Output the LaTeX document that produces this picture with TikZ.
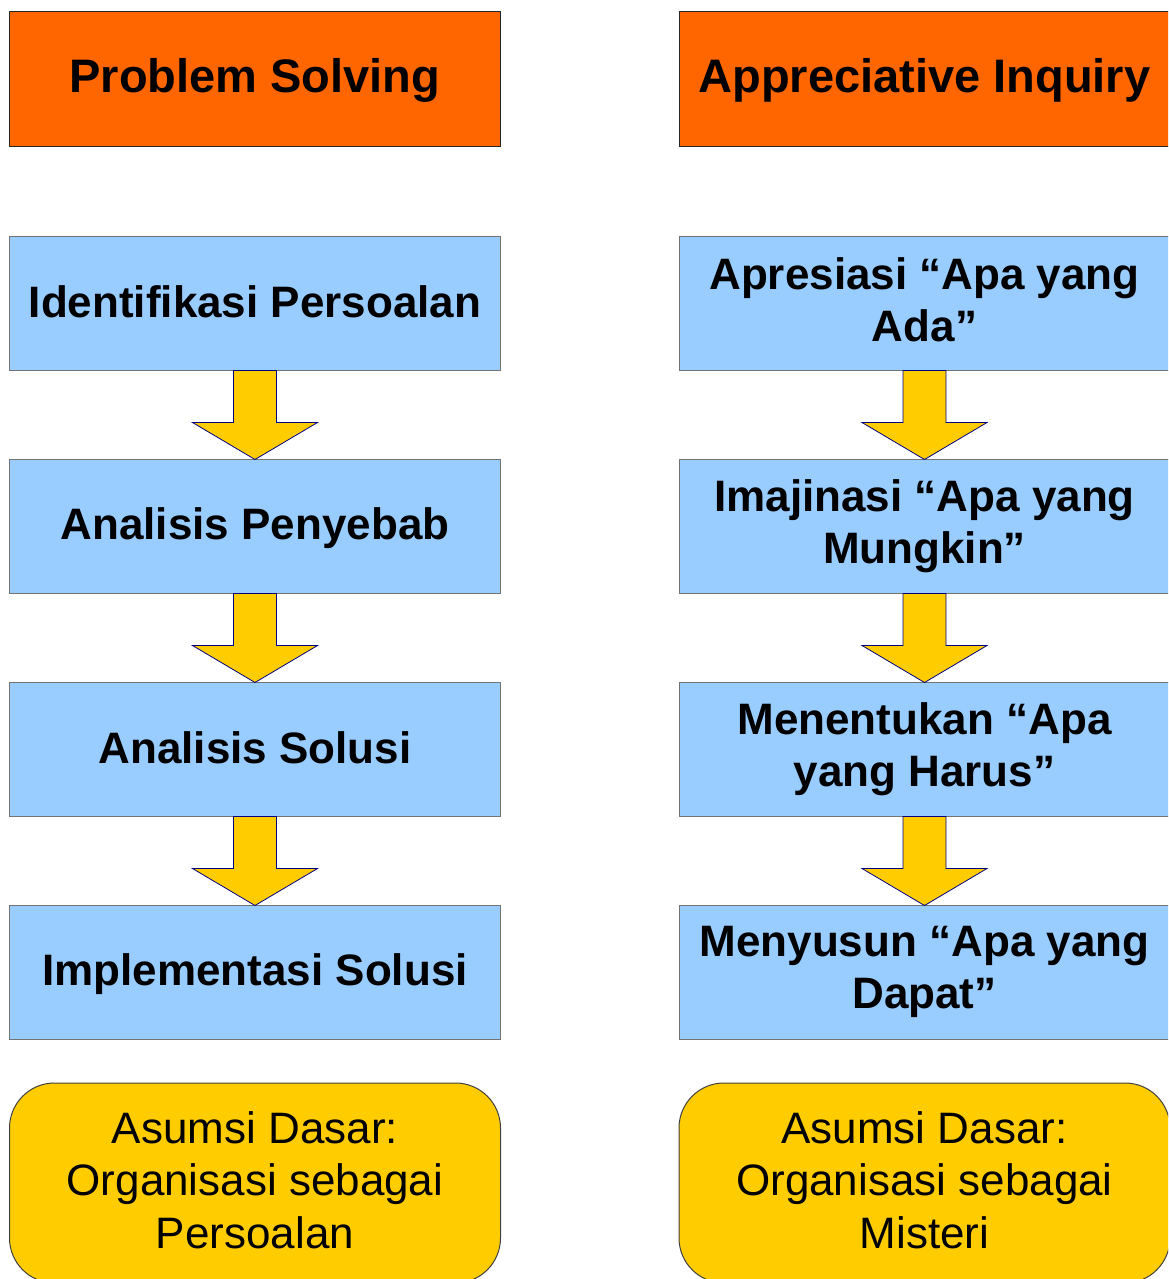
\documentclass[tikz,border=0pt]{standalone}
\usepackage{fontspec}
\setmainfont{Liberation Sans}
\usetikzlibrary{calc}
\definecolor{hdrorange}{HTML}{FF6600}
\definecolor{stepblue}{HTML}{99CCFF}
\definecolor{goldfill}{HTML}{FFCC00}
\definecolor{navyline}{HTML}{000080}
\newcommand\lnstrut{\rule[-0.15em]{0pt}{0.95em}}
\tikzset{
  textstruts/.style={execute at begin node=\lnstrut, execute at end node=\lnstrut},
  hdrbox/.style={draw=black!85, line width=1pt, fill=hdrorange, minimum width=491pt, minimum height=134pt, inner sep=0pt, textstruts, font=\fontsize{47}{56}\selectfont\bfseries},
  stepbox/.style={draw=black!55, line width=1pt, fill=stepblue, minimum width=491pt, minimum height=134pt, inner sep=0pt, align=center, textstruts, font=\fontsize{44}{52.5}\selectfont\bfseries},
  notebox/.style={draw=black!75, line width=1pt, fill=goldfill, rounded corners=45pt, minimum width=491pt, minimum height=200pt, inner sep=0pt, align=center, textstruts, font=\fontsize{44}{52.5}\selectfont},
  downarrow/.style={draw=navyline, line width=0.8pt, fill=goldfill, line join=miter}
}
\newcommand\flowarrow[2]{%
  \draw[downarrow] ($(#1.south)+(-21.5,0)$) -- ($(#1.south)+(21.5,0)$)
    -- ($(#1.south)+(21.5,52)$) -- ($(#1.south)+(62.5,52)$)
    -- ($(#2.north)+(0,1)$)
    -- ($(#1.south)+(-62.5,52)$) -- ($(#1.south)+(-21.5,52)$) -- cycle;}
\begin{document}
\begin{tikzpicture}[x=1pt,y=-1pt]
\useasboundingbox (0,0) rectangle (1168,1279);
\clip (0,0) rectangle (1168,1279);
% left column
\node[hdrbox] (ps) at (255,79) {Problem Solving};
\node[stepbox] (l1) at (255,303) {Identifikasi Persoalan};
\node[stepbox] (l2) at (255,526) {Analisis Penyebab};
\node[stepbox] (l3) at (255,749) {Analisis Solusi};
\node[stepbox] (l4) at (255,972) {Implementasi Solusi};
\node[notebox] (ln) at (255,1183) {Asumsi Dasar:\\Organisasi sebagai\\Persoalan};
% right column
\node[hdrbox] (ai) at (924.5,79) {Appreciative Inquiry};
\node[stepbox] (r1) at (924.5,303) {Apresiasi “Apa yang\\Ada”};
\node[stepbox] (r2) at (924.5,526) {Imajinasi “Apa yang\\Mungkin”};
\node[stepbox] (r3) at (924.5,749) {Menentukan “Apa\\yang Harus”};
\node[stepbox] (r4) at (924.5,972) {Menyusun “Apa yang\\Dapat”};
\node[notebox] (rn) at (924.5,1183) {Asumsi Dasar:\\Organisasi sebagai\\Misteri};
% arrows
\flowarrow{l1}{l2}
\flowarrow{l2}{l3}
\flowarrow{l3}{l4}
\flowarrow{r1}{r2}
\flowarrow{r2}{r3}
\flowarrow{r3}{r4}
\end{tikzpicture}
\end{document}
